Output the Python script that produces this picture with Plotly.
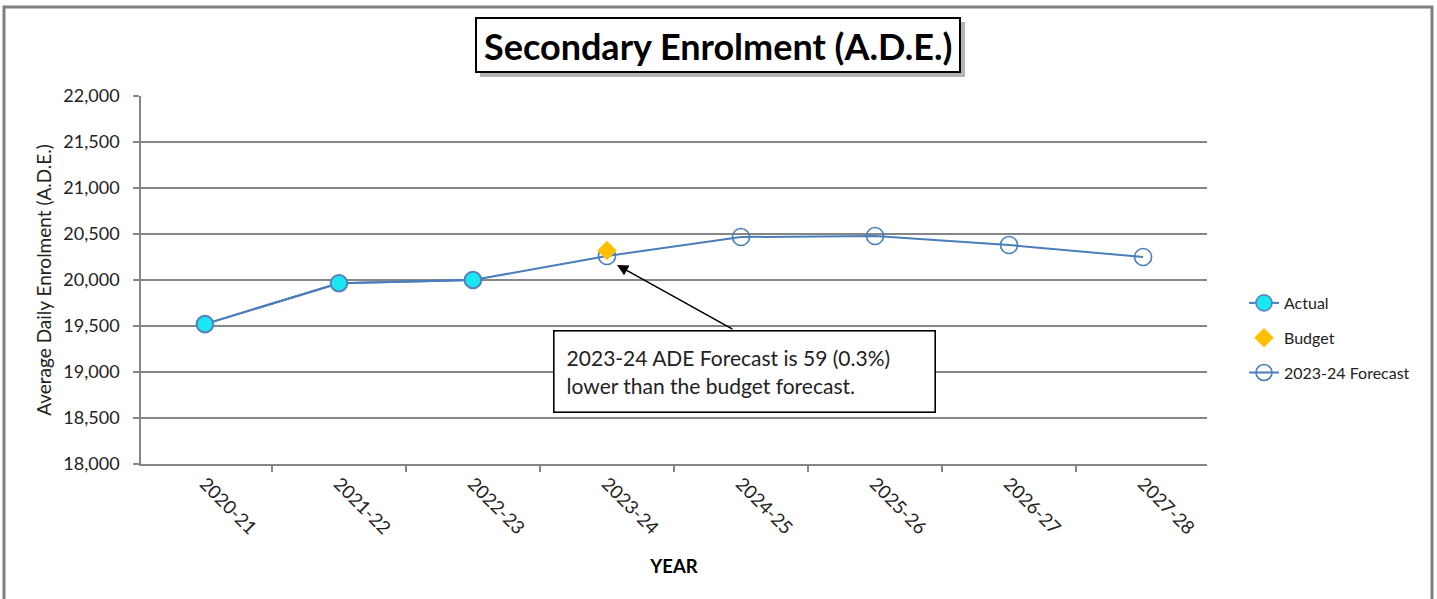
import plotly.graph_objects as go

years = ["2020-21", "2021-22", "2022-23", "2023-24", "2024-25", "2025-26", "2026-27", "2027-28"]
actual = [19520, 19965, 20000]
budget_year = ["2023-24"]
budget = [20320]
forecast = [19520, 19965, 20000, 20261, 20467, 20478, 20380, 20250]

W, H = 1437, 599
L, R, T, B = 141, 1207, 96, 464  # plot area pixel box


def px(x):
    return (x - L) / (R - L)


def py(y):
    return (B - y) / (B - T)


FONT = "Lato"
LINE = "#4A7EBB"
TXT = "#222222"

fig = go.Figure()
fig.add_trace(go.Scatter(
    x=years, y=forecast, name="2023-24 Forecast", mode="lines+markers",
    line=dict(color=LINE, width=2),
    marker=dict(symbol="circle-open", size=17, color=LINE, line=dict(width=1.6)),
    legendrank=3, legendgroup="c",
))
fig.add_trace(go.Scatter(
    x=years[:len(actual)], y=actual, name="Actual", mode="lines+markers",
    line=dict(color=LINE, width=2),
    marker=dict(symbol="circle", size=16, color="#19E8F2", line=dict(color="#5A85C2", width=1.6)),
    legendrank=1, legendgroup="a",
))
fig.add_trace(go.Scatter(
    x=budget_year, y=budget, name="Budget", mode="markers",
    marker=dict(symbol="diamond", size=15, color="#FFBF00"),
    legendrank=2, legendgroup="b",
))

shapes = [
    # outer chart border
    dict(type="rect", xref="paper", yref="paper", x0=px(4), x1=px(1432), y0=py(640), y1=py(7),
         line=dict(color="#7F7F7F", width=3), fillcolor="rgba(0,0,0,0)", layer="below"),
    # title shadow
    dict(type="rect", xref="paper", yref="paper", x0=px(480), x1=px(965), y0=py(77), y1=py(22),
         line=dict(width=0), fillcolor="rgba(120,120,120,0.55)", layer="above"),
    # title box
    dict(type="rect", xref="paper", yref="paper", x0=px(476), x1=px(960), y0=py(72), y1=py(18),
         line=dict(color="black", width=2), fillcolor="white", layer="above"),
]

annotations = [
    dict(xref="paper", yref="paper", x=px(718), y=py(46), text="<b>Secondary Enrolment (A.D.E.)</b>",
         showarrow=False, xanchor="center", yanchor="middle",
         font=dict(family=FONT, size=36, color="black")),
    # arrow
    dict(x="2023-24", y=20163, xref="x", yref="y", xshift=10, text="", showarrow=True,
         ax=117, ay=65, axref="pixel", ayref="pixel", arrowhead=2, arrowsize=1.4, arrowwidth=1.6,
         arrowcolor="black", standoff=0),
    # text box
    dict(xref="paper", yref="paper", x=px(553), y=py(330), xanchor="left", yanchor="top",
         text="2023-24 ADE Forecast is 59 (0.3%)<br>lower than the budget forecast.",
         showarrow=False, align="left", width=356, height=56, valign="middle",
         bgcolor="white", bordercolor="black", borderwidth=1.6, borderpad=12,
         font=dict(family=FONT, size=21, color=TXT)),
]

fig.update_layout(
    width=W, height=H,
    margin=dict(l=L, r=W - R, t=T, b=H - B),
    paper_bgcolor="white", plot_bgcolor="white",
    font=dict(family=FONT, size=16, color=TXT),
    showlegend=True,
    legend=dict(x=px(1244), y=py(286), xanchor="left", yanchor="top",
                font=dict(family=FONT, size=16, color=TXT),
                tracegroupgap=11, bgcolor="rgba(0,0,0,0)"),
    shapes=shapes, annotations=annotations,
)
fig.update_xaxes(
    type="category", categoryorder="array", categoryarray=years,
    showgrid=False, showline=True, linecolor="#868686", linewidth=1.5,
    ticks="outside", tickson="boundaries", ticklen=6, tickcolor="#868686", tickwidth=1.5,
    tickangle=45, tickfont=dict(family=FONT, size=18.5, color=TXT),
    title=dict(text="<b>YEAR</b>", font=dict(family=FONT, size=18.5, color="black"), standoff=22),
)
fig.update_yaxes(
    range=[18000, 22000], dtick=500, tickformat=",",
    showgrid=True, gridcolor="#868686", gridwidth=1.5,
    showline=True, linecolor="#868686", linewidth=1.5,
    ticks="outside", ticklen=6, tickcolor="#868686", tickwidth=1.5, ticklabelstandoff=10,
    tickfont=dict(family=FONT, size=18, color=TXT),
    title=dict(text="Average Daily Enrolment (A.D.E.)", font=dict(family=FONT, size=19, color=TXT), standoff=7),
)

fig.write_html("out.html")
